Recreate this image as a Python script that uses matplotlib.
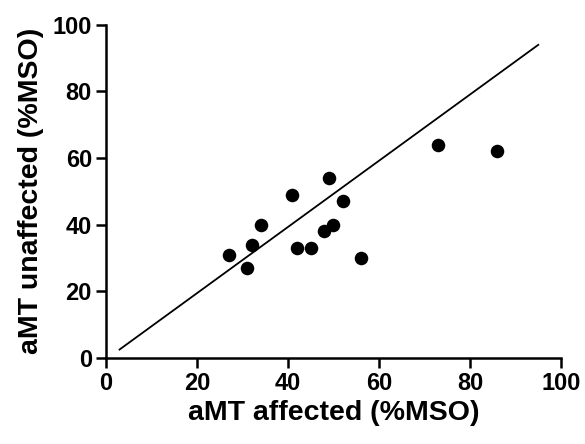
import matplotlib
matplotlib.use("Agg")
import matplotlib.pyplot as plt

affected = [27, 31, 32, 34, 41, 42, 45, 48, 50, 49, 52, 56, 73, 86]
unaffected = [31, 27, 34, 40, 49, 33, 33, 38, 40, 54, 47, 30, 64, 62]
line_x = [3, 95]
line_y = [2.5, 94]
ticks = [0, 20, 40, 60, 80, 100]

plt.rcParams['font.family'] = ['Liberation Sans', 'DejaVu Sans']
plt.rcParams['font.weight'] = 'bold'

fig = plt.figure(figsize=(5.85, 4.44), dpi=100)
ax = fig.add_axes([0.181, 0.194, 0.778, 0.750])
ax.scatter(affected, unaffected, s=95, color='black', zorder=3, linewidths=0)
ax.plot(line_x, line_y, color='black', lw=1.3)
ax.set_xlim(0, 100)
ax.set_ylim(0, 100)
ax.set_xticks(ticks)
ax.set_yticks(ticks)
ax.tick_params(axis='both', direction='out', length=7, width=1.8, labelsize=17, pad=3)
for lbl in ax.get_xticklabels() + ax.get_yticklabels():
    lbl.set_fontweight('bold')
for s in ['top', 'right']:
    ax.spines[s].set_visible(False)
for s in ['left', 'bottom']:
    ax.spines[s].set_linewidth(1.8)
ax.set_xlabel('aMT affected (%MSO)', fontsize=20.5, fontweight='bold', labelpad=4)
ax.set_ylabel('aMT unaffected (%MSO)', fontsize=20.5, fontweight='bold', labelpad=6)
fig.savefig('out.png', dpi=100)
